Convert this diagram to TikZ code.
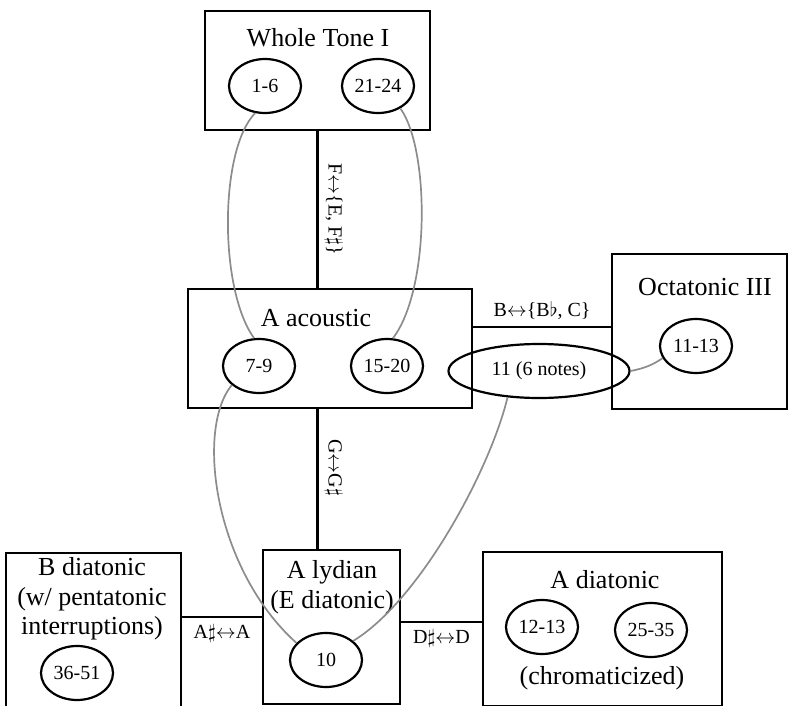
\documentclass[tikz,border=0pt]{standalone}
\usepackage{amssymb, amsmath}
\usepackage{fontspec}
\setmainfont{Liberation Serif}
\usepackage{tikz}
\usetikzlibrary{positioning, shapes.geometric}
\definecolor{linkgray}{gray}{0.55}
\tikzset {
    x=0.5pt, y=-0.5pt,
    region/.style={draw, line width=1.25pt, inner sep=0pt},
    scalename/.style={font=\fontsize{13}{14.8}\selectfont, inner sep=0pt, align=center},
    passage/.style={ellipse, draw, line width=1.1pt, inner sep=0pt,
        minimum width=36pt, minimum height=27pt, font=\fontsize{10}{12}\selectfont},
    bar/.style={line width=1.25pt},
    trans/.style={font=\fontsize{10}{12}\selectfont, inner sep=3pt},
    link/.style={draw=linkgray, line width=0.85pt}
}

\begin{document}
\begin{tikzpicture}
    \useasboundingbox (0,0) rectangle (788,706);

    \node[region, minimum width=112.5pt, minimum height=59.5pt] (wt) at (317.5,70.5) {};
    \node[region, minimum width=142pt, minimum height=59.5pt] (acou) at (330,348.5) {};
    \node[region, minimum width=87.5pt, minimum height=77.5pt] (oct) at (699.5,331.5) {};
    \node[region, minimum width=87.5pt, minimum height=77.5pt] (bdia) at (93.5,630.5) {};
    \node[region, minimum width=68.5pt, minimum height=77pt] (lyd) at (331.5,627) {};
    \node[region, minimum width=119.5pt, minimum height=77pt] (adia) at (602.5,629) {};

    \node[scalename] (wtname) at (318,38) {Whole Tone I};
    \node[scalename] (acname) at (316,318) {A acoustic};
    \node[scalename] (octname) at (705,287) {Octatonic III};
    \node[scalename] (bdname) at (92,599) {B diatonic\\(w/ pentatonic\\interruptions)};
    \node[scalename] (lydname) at (332,587) {A lydian\\(E diatonic)};
    \node[scalename] (adname) at (605,580) {A diatonic};
    \node[scalename] (adnote) at (602,678) {(chromaticized)};

    \node[passage] (p16) at (265,86) {1-6};
    \node[passage] (p2124) at (378,86) {21-24};
    \node[passage] (p79) at (259,366) {7-9};
    \node[passage] (p1520) at (387,366) {15-20};
    \node[passage, minimum width=90.5pt] (p11) at (539,371) {11 (6 notes)};
    \node[passage] (p1113) at (696,346) {11-13};
    \node[passage] (p10) at (326,660) {10};
    \node[passage] (p3651) at (77,673) {36-51};
    \node[passage] (p1213) at (542,627) {12-13};
    \node[passage] (p2535) at (651,630) {25-35};

    \draw[bar]
    (wt.south) edge node[trans, rotate=-90, anchor=south]{F$\leftrightarrow$\{E, F$\sharp$\}} (wt.south |- acou.north)
    (wt.south |- acou.south) edge node[trans, rotate=-90, anchor=south, pos=0.42]{G$\leftrightarrow$G$\sharp$} (wt.south |- lyd.north)
    (acou.east |- oct.177) edge node[trans, above]{B$\leftrightarrow$\{B$\flat$, C\}} (oct.177)
    (bdia.east |- lyd.172) edge node[trans, below]{A$\sharp$$\leftrightarrow$A} (lyd.172)
    (lyd.4) edge node[trans, below]{D$\sharp$$\leftrightarrow$D} (lyd.4 -| adia.west);

    \draw[link] (p16.250) .. controls (219,150) and (219,290) .. (p79.100);
    \draw[link] (p2124.315) .. controls (430,150) and (430,290) .. (p1520.78);
    \draw[link] (p79.215) .. controls (195,430) and (215,570) .. (p10.150);
    \draw[link] (p11.220) .. controls (490,470) and (420,600) .. (p10.35);
    \draw[link] (p11.east) .. controls (646,368) and (654,364) .. (p1113.200);
\end{tikzpicture}
\end{document}
